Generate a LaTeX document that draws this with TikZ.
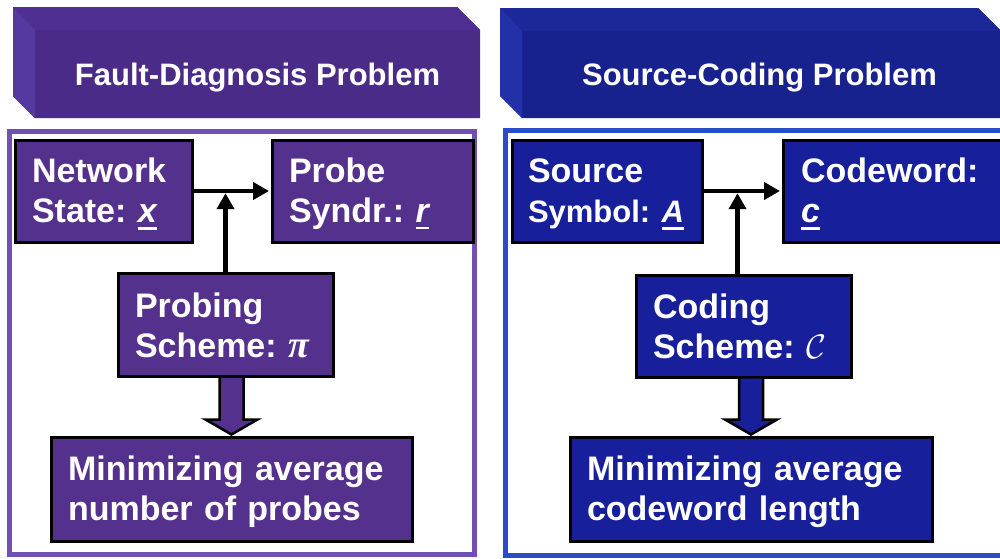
\documentclass[tikz,border=0pt]{standalone}
\usepackage{fix-cm}
\usepackage{fontspec}
\setmainfont{Liberation Sans}
\newfontfamily\greekserif{Liberation Serif}
\usetikzlibrary{arrows.meta,calc}

% palette
\definecolor{fdfill}{HTML}{54318D}
\definecolor{fdhead}{HTML}{4A2B88}
\definecolor{fdtop}{HTML}{4F3092}
\definecolor{fdside}{HTML}{5639A0}
\definecolor{fdframe}{HTML}{7050B2}
\definecolor{scfill}{HTML}{17209A}
\definecolor{schead}{HTML}{18228F}
\definecolor{sctop}{HTML}{1C2898}
\definecolor{scside}{HTML}{2231A8}
\definecolor{scframe}{HTML}{2A4CCC}

% underlined bold-italic variable
\newcommand\uvar[1]{\setbox0=\hbox{\itshape #1}\leavevmode\rlap{\rule[-7pt]{\wd0}{2.6pt}}\box0}
\newcommand\boxfont{\bfseries\fontsize{34}{40}\selectfont\frenchspacing}
\newcommand\headfont{\bfseries\fontsize{31}{36}\selectfont}
\newcommand\piglyph{{\greekserif\bfseries\itshape\fontsize{38}{40}\selectfont π}}
% struts that fix the first baseline and last depth of a two-line label
\newcommand\topstrut{\rule{0pt}{30pt}}
\newcommand\botstrut{\rule[-6pt]{0pt}{6pt}}

\tikzset{
  infobox/.style={rectangle, draw=black, line width=3pt, inner xsep=17pt, inner ysep=0pt,
    align=left, text=white, font=\boxfont},
  fdbox/.style={infobox, fill=fdfill},
  scbox/.style={infobox, fill=scfill},
  headtext/.style={text=white, font=\headfont, inner sep=0pt},
  conn/.style={draw=black, line width=4.5pt, -{Triangle[length=16pt,width=17pt]}},
  fdblock/.style={draw=black, line width=2.5pt, fill=fdfill, line join=miter},
  scblock/.style={draw=black, line width=2.5pt, fill=scfill, line join=miter},
}

\begin{document}
\begin{tikzpicture}[x=1pt,y=-1pt]
\useasboundingbox (0,0) rectangle (1000,558);
\clip (0,0) rectangle (1000,558);
\fill[white] (0,0) rectangle (1000,558);

% ---- headers drawn as bevelled slabs ----
\fill[fdhead] (13,7) -- (457,7) -- (480,30) -- (480,118) -- (35,118) -- (13,96) -- cycle;
\fill[fdtop] (13,7) -- (457,7) -- (480,30) -- (35,30) -- cycle;
\fill[fdside] (13,7) -- (35,30) -- (35,118) -- (13,96) -- cycle;
\node[headtext] (fdtitle) at (257.5,77.5) {Fault-Diagnosis Problem};

\fill[schead] (500,8) -- (978,8) -- (1001,31) -- (1001,118) -- (522,118) -- (500,96) -- cycle;
\fill[sctop] (500,8) -- (978,8) -- (1001,31) -- (522,31) -- cycle;
\fill[scside] (500,8) -- (522,31) -- (522,118) -- (500,96) -- cycle;
\node[headtext] (sctitle) at (759.5,77.5) {Source-Coding Problem};

% ---- panel frames ----
\draw[fdframe, line width=5pt] (9.5,131) rectangle (474.5,554);
\draw[scframe, line width=5pt] (505.5,130) rectangle (1010,555);

% ---- fault-diagnosis side ----
\node[fdbox, minimum width=177, minimum height=102, text width=143] (ns) at (103.5,191)
  {\topstrut Network\\State: \uvar{x}\botstrut};
\node[fdbox, minimum width=201, minimum height=102, text width=167] (ps) at (372.5,191)
  {\topstrut Probe\\Syndr.: \uvar{r}\botstrut};
\node[fdbox, minimum width=215, minimum height=103, text width=181] (pr) at (225.5,325)
  {\topstrut Probing\\Scheme: \piglyph\botstrut};
\node[fdbox, minimum width=361, minimum height=104, text width=327] (mn) at (231.5,489)
  {\topstrut Minimizing average\\number of probes\botstrut};

\draw[conn, shorten >=1.5pt] (ns.east) -- (ps.west);
\draw[conn, shorten >=2.2pt] (pr.north) -- (pr.north |- ns.east);

\coordinate (fa) at (mn.north |- pr.south);
\draw[fdblock] ($(fa)+(-12,0)$) -- ($(mn.north)+(-12,-16)$) -- ($(mn.north)+(-26,-16)$)
  -- ($(mn.north)+(0,-1)$) -- ($(mn.north)+(26,-16)$) -- ($(mn.north)+(12,-16)$)
  -- ($(fa)+(12,0)$);

% ---- source-coding side ----
\node[scbox, minimum width=190, minimum height=102, text width=158, inner xsep=16pt] (ss) at (607,191)
  {\topstrut Source\\{\fontsize{31}{40}\selectfont Symbol:~\uvar{A}}\botstrut};
\node[scbox, minimum width=240, minimum height=102, text width=204, inner xsep=18pt] (cw) at (903,191)
  {\topstrut Codeword:\\\uvar{c}\botstrut};
\node[scbox, minimum width=215, minimum height=102, text width=181] (cs) at (743.5,326)
  {\topstrut Coding\\Scheme: $\mathcal{C}$\botstrut};
\node[scbox, minimum width=362, minimum height=104, text width=328] (mc) at (751,489)
  {\topstrut Minimizing average\\codeword length\botstrut};

\coordinate (cn) at ($(cs.north)+(-6,0)$);
\draw[conn, shorten >=1.5pt] (ss.east) -- (cw.west);
\draw[conn, shorten >=2.2pt] (cn) -- (cn |- ss.east);

\coordinate (sa) at (mc.north |- cs.south);
\draw[scblock] ($(sa)+(-12,0)$) -- ($(mc.north)+(-12,-16)$) -- ($(mc.north)+(-26,-16)$)
  -- ($(mc.north)+(0,-1)$) -- ($(mc.north)+(26,-16)$) -- ($(mc.north)+(12,-16)$)
  -- ($(sa)+(12,0)$);
\end{tikzpicture}
\end{document}
